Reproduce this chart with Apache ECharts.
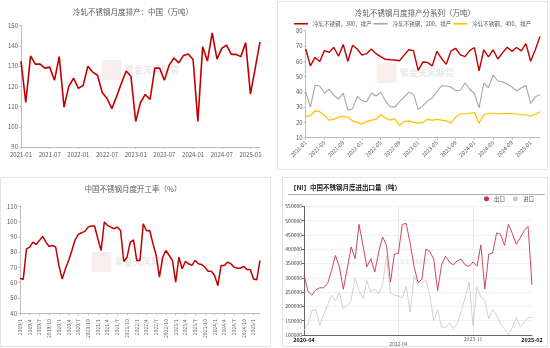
<!DOCTYPE html>
<html>
<head>
<meta charset="utf-8">
<script src="https://cdn.jsdelivr.net/npm/echarts@6.0.0/dist/echarts.min.js"></script>
<style>
  html, body { margin: 0; padding: 0; background: #fff; }
  #main { width: 550px; height: 348px; }
</style>
</head>
<body>
<div id="main"></div>
<script>
// 冷轧不锈钢月度排产：中国（万吨），2021-01 ~ 2025-03
const prodCN = [132.5,112,135,131,131,129,129.5,123,134.7,109.7,120,124,
  119,120.5,130,127,125.5,117,114,109,115,121.5,127.6,125,
  102.6,112,116,113.5,129,129,123,130.5,134,131.6,135.3,136,
  133.3,102.6,139.6,132.5,146.5,133.5,138.8,140.4,135.8,135.8,134.7,141.6,
  116.2,129,142];

// 分系列排产（万吨），2021-01 ~ 2025-03
const s300 = [68,57,62.5,59.8,67,65.8,69.2,63.3,71,60,70.5,68,
  64,65,68,65,63,61.3,61,60.8,60.3,64,67.5,67,
  54,59.5,59.3,57,66.5,61.8,58,66.8,68.5,64.2,63,67,
  69,53.8,67.5,62.8,67.5,61.5,65.5,69.2,66.5,69,66.8,71.5,
  60,67.5,76.3];
const s200 = [40,30,44.3,43.8,39.2,41.7,37.8,35.2,39.2,28,29,37,
  34.2,33.5,39.2,37.3,39.8,34.1,30.3,30,33.5,36.5,39.8,38.5,
  28.5,31,34.1,36,40.2,44,43.8,43.2,40.8,41,45.8,41.7,
  38.9,29.5,45.8,42.8,51,47.1,46.6,45,43.3,40.6,42.5,44.3,
  32.4,36.7,38.3];
const s400 = [24,24.5,27.5,27,24.5,21.5,22,23.5,24,23.5,21,20,
  19,20.5,21.5,22,25,23,21.5,22.5,18,20.5,21,20,
  19.5,20,22,21.5,22,21.5,21,19.5,23.5,25.5,25.5,26,
  26.5,19.5,25,26,26,25.5,26,25.8,25.8,25.5,25,25,
  24,25.5,27];
const seriesNames = ['冷轧不锈钢，300，排产', '冷轧不锈钢，200，排产', '冷轧不锈钢，400，排产'];

// 中国不锈钢月度开工率（%），2019/1 ~ 2025/3
const utilRate = [63,62.1,82.2,83.3,86.6,85,87.7,90.3,86.6,83.7,84.4,83.3,
  71.3,62.5,69.1,74.6,81.1,88.1,91.6,92.7,93.6,96.4,97.1,97.1,
  88.8,81.1,99.7,97.5,96.4,95.3,96.4,94.2,73.9,76.7,86.6,88.1,
  74.6,74.6,98.6,94,94.2,85.5,77.8,63.6,76.7,81.1,77.8,74.6,
  60.3,76.7,69.1,73.9,72.4,71.3,74.6,72.4,71.9,70.2,67.5,67.5,
  64.7,58.1,71.3,71.3,73.5,72.4,70.2,69.5,69.5,70.6,68.6,68.6,
  62.5,61.9,74.6];

// 中国不锈钢月度进出口量（吨），2020-04 ~ 2025-02
const exportsT = [310000,253000,239000,258000,265000,265000,280000,326000,378000,338000,
  260000,332000,408000,367000,487000,413000,338000,367000,320000,390000,
  443000,413000,285000,383000,385000,487000,490000,420000,340000,283000,
  295000,400000,392000,365000,255000,345000,375000,355000,345000,360000,
  365000,345000,340000,355000,340000,415000,260000,382000,387000,457000,
  452000,413000,487000,455000,417000,440000,465000,480000,275000];
const importsT = [115000,138000,185000,190000,133000,172000,203000,240000,220000,249000,
  191000,203000,222000,300000,255000,226000,290000,249000,261000,243000,
  278000,375000,245000,240000,236000,230000,270000,180000,305000,275000,
  285000,290000,240000,150000,188000,127000,127000,141000,122000,140000,
  183000,232000,285000,132000,267000,232000,221000,157000,189000,169000,
  138000,122000,100000,127000,162000,129000,144000,162000,160000];
const tradeNames = ['出口', '进口'];
const tradeTicks = ['2020-04', '2022-04', '2023-11', '2025-02'];

// month labels for each category axis
function months(y, m, n, sep, pad) {
  const out = [];
  for (let k = 0; k < n; k++) {
    const mm = ((m - 1 + k) % 12) + 1;
    const yy = y + Math.floor((m - 1 + k) / 12);
    out.push(yy + sep + (pad ? String(mm).padStart(2, '0') : mm));
  }
  return out;
}
const catProd = months(2021, 1, prodCN.length, '-', true);
const catSeries = months(2021, 1, s300.length, '-', true);
const catUtil = months(2019, 1, utilRate.length, '/', false);
const catTrade = months(2020, 4, exportsT.length, '-', true);

const FONT = '"Noto Sans CJK SC", "Noto Sans", sans-serif';
const RED = '#C00000';
const GRAY_TXT = '#595959';
const AXIS = '#bfbfbf';

function baseY(grid, min, max, step, fs) {
  return {
    type: 'value', gridIndex: grid, min: min, max: max, interval: step,
    axisLine: { show: true, lineStyle: { color: AXIS, width: 1 } },
    axisTick: { show: true, length: 2, lineStyle: { color: AXIS } },
    splitLine: { show: false },
    axisLabel: { fontSize: fs, color: GRAY_TXT, margin: 3, fontFamily: FONT }
  };
}

const chart = echarts.init(document.getElementById('main'), null, { renderer: 'canvas' });

const wm = (x, y, size) => ([
  { type: 'rect', silent: true, shape: { x: x - size * 2.6, y: y - size * 1.1, width: size * 2.2, height: size * 2.2, r: 1 },
    style: { fill: 'rgba(205,120,120,0.13)' }, z: -1 },
  { type: 'text', silent: true, x: x, y: y, z: -1,
    style: { text: '紫金天风期货', fill: 'rgba(150,150,150,0.22)', fontSize: size, fontFamily: FONT, fontWeight: 'bold',
      textAlign: 'left', textVerticalAlign: 'middle', align: 'left', verticalAlign: 'middle' } }
]);

const titleText = (text, x, y, size, align, weight, color) => ({
  type: 'text', silent: true, x: x, y: y,
  style: { text: text, fill: color || GRAY_TXT, fontSize: size, fontFamily: FONT, fontWeight: weight || 'normal',
    textAlign: align, textVerticalAlign: 'middle', align: align, verticalAlign: 'middle' }
});

const option = {
  animation: false,
  backgroundColor: '#fff',
  graphic: { elements: [
    { type: 'rect', silent: true, shape: { x: 277.5, y: 1.5, width: 270, height: 168 }, style: { fill: 'none', stroke: '#e3e3e3', lineWidth: 1 }, z: -2 },
    { type: 'rect', silent: true, shape: { x: 0.5, y: 177.5, width: 270, height: 169 }, style: { fill: 'none', stroke: '#e3e3e3', lineWidth: 1 }, z: -2 },
    { type: 'rect', silent: true, shape: { x: 282.5, y: 177.5, width: 265, height: 169 }, style: { fill: 'none', stroke: '#e3e3e3', lineWidth: 1 }, z: -2 },
    titleText('冷轧不锈钢月度排产：中国（万吨）', 133, 12, 7.5, 'center'),
    titleText('冷轧不锈钢月度排产分系列（万吨）', 415, 13, 7.5, 'center'),
    titleText('中国不锈钢月度开工率（%）', 133, 189, 7.5, 'center'),
    titleText('【NI】中国不锈钢月度进出口量（吨）', 290, 188, 6.5, 'left', 'bold', '#222'),
    { type: 'line', silent: true, shape: { x1: 288, y1: 194.5, x2: 545, y2: 194.5 }, style: { stroke: '#9a9a9a', lineWidth: 0.8 } },
    ...wm(125, 70, 9),
    ...wm(400, 73, 9),
    ...wm(115, 262, 9),
    { type: 'text', silent: true, x: 415, y: 261, z: -1,
      style: { text: '紫金天风期货', fill: 'rgba(150,150,150,0.3)', fontSize: 5, fontFamily: FONT,
        textAlign: 'center', textVerticalAlign: 'middle', align: 'center', verticalAlign: 'middle' } }
  ] },
  legend: [
    {
      data: seriesNames, left: 294, top: 21, width: 254, padding: 0, icon: 'rect',
      itemWidth: 14, itemHeight: 1.6, itemGap: 2,
      textStyle: { fontSize: 5.5, color: GRAY_TXT, fontFamily: FONT }
    },
    {
      data: tradeNames, left: 484, top: 196, padding: 0, icon: 'circle', itemWidth: 5, itemHeight: 5, itemGap: 8,
      textStyle: { fontSize: 5.5, color: '#555', fontFamily: FONT }
    }
  ],
  grid: [
    { left: 21, top: 25.7, width: 239, height: 121.3 },
    { left: 305.7, top: 30.7, width: 234.3, height: 107 },
    { left: 20, top: 206.3, width: 240, height: 107 },
    { left: 304, top: 206.3, width: 228, height: 128.7 }
  ],
  xAxis: [
    {
      type: 'category', gridIndex: 0, data: catProd, boundaryGap: false,
      axisLine: { lineStyle: { color: AXIS } },
      axisTick: { show: true, interval: 5, length: 2, lineStyle: { color: AXIS } },
      axisLabel: { interval: 5, fontSize: 6, color: GRAY_TXT, margin: 5, fontFamily: FONT }
    },
    {
      type: 'category', gridIndex: 1, data: catSeries, boundaryGap: false,
      axisLine: { lineStyle: { color: AXIS } },
      axisTick: { show: true, interval: 3, length: 2, lineStyle: { color: AXIS } },
      axisLabel: { interval: 3, rotate: 45, fontSize: 5.5, color: GRAY_TXT, margin: 4, fontFamily: FONT }
    },
    {
      type: 'category', gridIndex: 2, data: catUtil, boundaryGap: false,
      axisLine: { lineStyle: { color: AXIS } },
      axisTick: { show: true, interval: 2, length: 2, lineStyle: { color: AXIS } },
      axisLabel: { interval: 2, rotate: 90, fontSize: 5, color: GRAY_TXT, margin: 6, fontFamily: FONT }
    },
    {
      type: 'category', gridIndex: 3, data: catTrade, boundaryGap: false,
      axisLine: { lineStyle: { color: '#666' } },
      axisTick: { show: false },
      splitLine: { show: true, interval: (i, v) => v === tradeTicks[1] || v === tradeTicks[2],
        lineStyle: { color: '#e6e6e6', width: 0.8 } },
      axisLabel: {
        interval: (i, v) => tradeTicks.indexOf(v) >= 0,
        margin: 2, fontFamily: FONT,
        formatter: (v) => {
          const k = tradeTicks.indexOf(v);
          if (k === 0 || k === tradeTicks.length - 1) return '{b|' + v + '}';
          if (k === 1) return '{lo|' + v + '}';
          return '{n|' + v + '}';
        },
        rich: {
          b: { fontSize: 5.5, fontWeight: 'bold', color: '#111', fontFamily: FONT },
          n: { fontSize: 5, color: '#666', fontFamily: FONT },
          lo: { fontSize: 5, color: '#666', padding: [5, 0, 0, 0], fontFamily: FONT }
        }
      }
    }
  ],
  yAxis: [
    baseY(0, 90, 150, 10, 6),
    baseY(1, 10, 80, 10, 6),
    baseY(2, 40, 110, 10, 6),
    {
      type: 'value', gridIndex: 3, min: 100000, max: 550000, interval: 50000,
      axisLine: { show: true, lineStyle: { color: '#666', width: 1 } },
      axisTick: { show: true, length: 2, lineStyle: { color: '#666' } },
      splitLine: { show: true, lineStyle: { color: '#eeeeee', width: 0.8 } },
      axisLabel: { fontSize: 5, color: '#444', margin: 2, fontFamily: FONT, formatter: (v) => String(v) }
    }
  ],
  series: [
    { name: '排产', type: 'line', xAxisIndex: 0, yAxisIndex: 0, data: prodCN, symbol: 'none',
      lineStyle: { color: RED, width: 1.6 }, itemStyle: { color: RED } },
    { name: seriesNames[0], type: 'line', xAxisIndex: 1, yAxisIndex: 1, data: s300, symbol: 'none',
      lineStyle: { color: RED, width: 1.4 }, itemStyle: { color: RED } },
    { name: seriesNames[1], type: 'line', xAxisIndex: 1, yAxisIndex: 1, data: s200, symbol: 'none',
      lineStyle: { color: '#a6a6a6', width: 1.1 }, itemStyle: { color: '#a6a6a6' } },
    { name: seriesNames[2], type: 'line', xAxisIndex: 1, yAxisIndex: 1, data: s400, symbol: 'none',
      lineStyle: { color: '#FFC000', width: 1.2 }, itemStyle: { color: '#FFC000' } },
    { name: '开工率', type: 'line', xAxisIndex: 2, yAxisIndex: 2, data: utilRate, symbol: 'none',
      lineStyle: { color: RED, width: 1.5 }, itemStyle: { color: RED } },
    { name: tradeNames[0], type: 'line', xAxisIndex: 3, yAxisIndex: 3, data: exportsT, symbol: 'none',
      lineStyle: { color: '#c8344a', width: 0.9 }, itemStyle: { color: '#c8344a' } },
    { name: tradeNames[1], type: 'line', xAxisIndex: 3, yAxisIndex: 3, data: importsT, symbol: 'none',
      lineStyle: { color: '#d2cbc3', width: 0.9 }, itemStyle: { color: '#d2cbc3' } }
  ]
};

chart.setOption(option);
</script>
</body>
</html>
